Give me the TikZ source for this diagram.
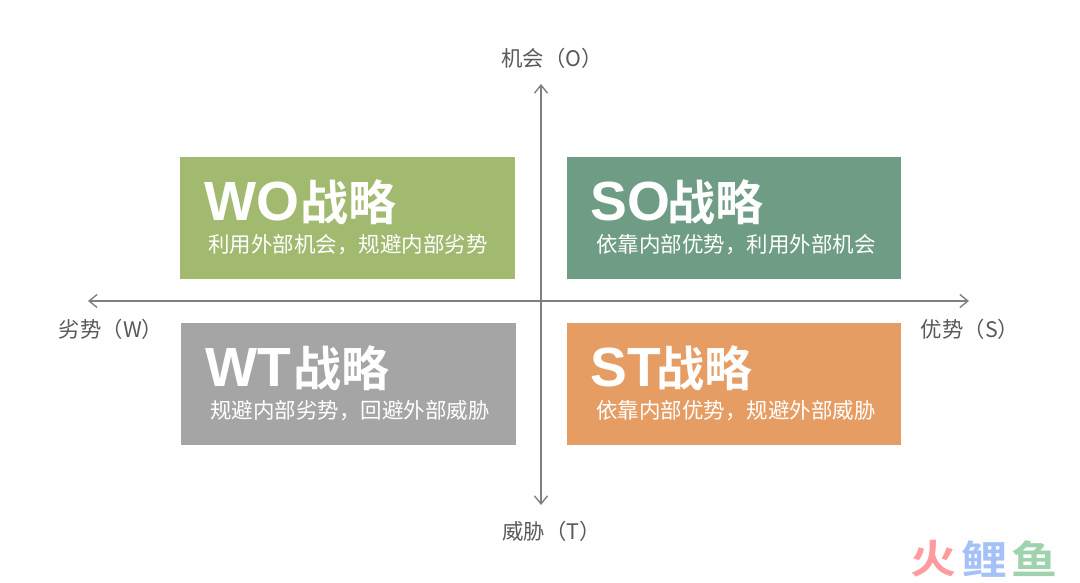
\documentclass[tikz,border=0pt]{standalone}
\usepackage{fontspec}
\setmainfont{Noto Sans CJK SC}[BoldFont={Noto Sans CJK SC Bold}]
\newfontfamily\latinbold{Liberation Sans}[Scale=1.15]
\usetikzlibrary{arrows.meta}
\definecolor{axisc}{HTML}{7F7F7F}
\definecolor{labelc}{HTML}{595959}
\definecolor{wo}{HTML}{A2BA70}
\definecolor{so}{HTML}{6F9C84}
\definecolor{wt}{HTML}{A5A5A5}
\definecolor{st}{HTML}{E69D64}
\definecolor{wmred}{HTML}{FF9A9E}
\definecolor{wmblue}{HTML}{A4C2F8}
\definecolor{wmgreen}{HTML}{9FD3AE}
\tikzset{
  x=1pt,y=-1pt,
  quadbox/.style={fill=#1,draw=none,inner sep=0pt,anchor=north west,minimum width=334.5pt,minimum height=121.3pt},
  axisline/.style={draw=axisc,line width=1.5pt,{Straight Barb[length=8pt,width=13pt,line width=1.4pt]}-{Straight Barb[length=8pt,width=13pt,line width=1.4pt]}},
  axislabel/.style={text=labelc,font=\fontsize{21.4}{25}\selectfont,inner sep=0pt},
  bigt/.style={text=white,font=\fontsize{48}{52}\selectfont\bfseries,inner sep=0pt,anchor=west},
  subt/.style={text=white,font=\fontsize{21.5}{25}\selectfont,inner sep=0pt,anchor=west},
  wmark/.style={font=\fontsize{46}{48}\selectfont\bfseries,inner sep=0pt,anchor=west,yscale=.86},
}
\begin{document}
\begin{tikzpicture}
\useasboundingbox (0,0) rectangle (1080,583);
\node[quadbox=wo] (bwo) at (180,157) {};
\node[quadbox=so] (bso) at (566.5,157) {};
\node[quadbox=wt] (bwt) at (181,323) {};
\node[quadbox=st] (bst) at (566.5,323) {};
\coordinate (top) at (541,84);
\coordinate (bot) at (541,505);
\coordinate (lft) at (88,301);
\coordinate (rgt) at (969,301);
\draw[axisline] (top) -- (bot);
\draw[axisline] (lft) -- (rgt);
\node[axislabel] (lo) at (552,58) {机会（O）};
\node[axislabel] (lt) at (551.5,531) {威胁（T）};
\node[axislabel] (lw) at (111,329) {劣势（W）};
\node[axislabel] (ls) at (970,329) {优势（S）};
\node[bigt] (t1) at (204,202) {{\latinbold\bfseries WO}\kern1pt 战略};
\node[bigt] (t2) at (590,202) {{\latinbold\bfseries SO}\kern-2.5pt 战略};
\node[bigt] (t3) at (205,368) {{\latinbold\bfseries WT}\kern2pt 战略};
\node[bigt] (t4) at (590,368) {{\latinbold\bfseries ST}\kern-4pt 战略};
\node[subt] (s1) at (208,245) {利用外部机会，规避内部劣势};
\node[subt] (s2) at (596,245) {依靠内部优势，利用外部机会};
\node[subt] (s3) at (210,411) {规避内部劣势，回避外部威胁};
\node[subt] (s4) at (596,411) {依靠内部优势，规避外部威胁};
\node[wmark,text=wmred] (m1) at (910.5,559) {火};
\node[wmark,text=wmblue] (m2) at (961,559) {鲤};
\node[wmark,text=wmgreen] (m3) at (1011,559) {鱼};
\end{tikzpicture}
\end{document}
